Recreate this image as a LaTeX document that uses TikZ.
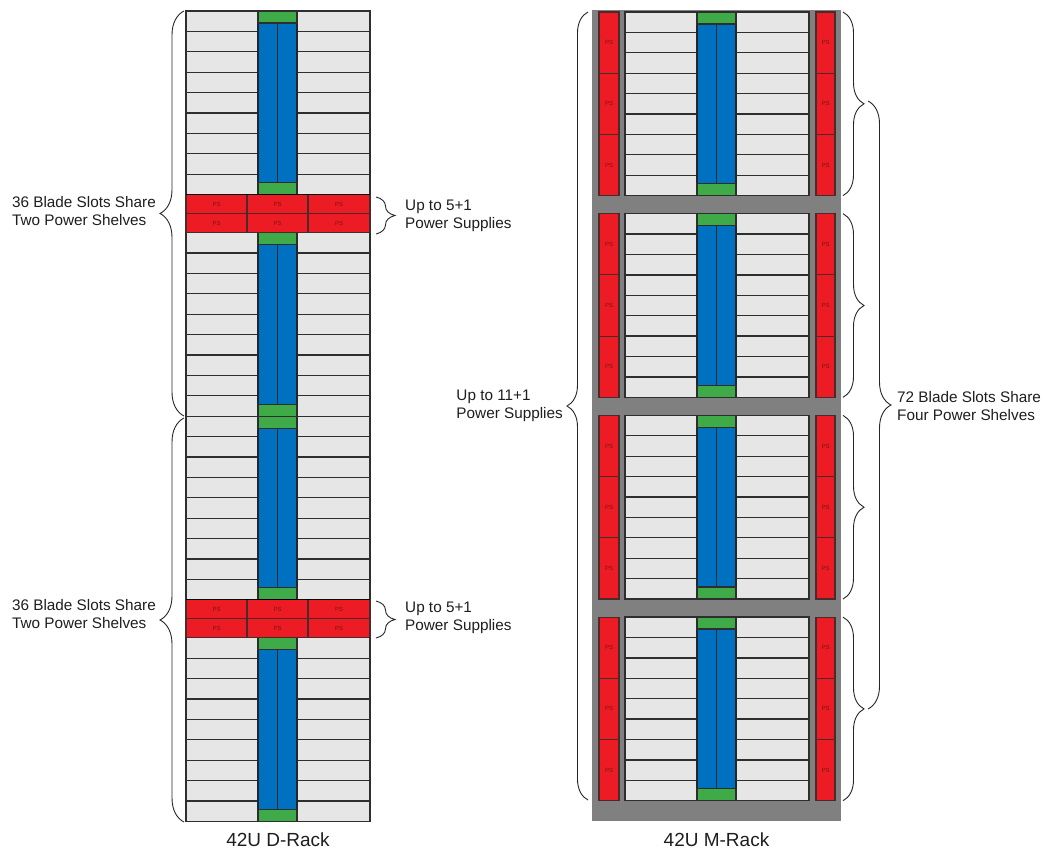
\documentclass[tikz,border=0pt]{standalone}
\usepackage{fontspec}
\setmainfont{Liberation Sans}
\usetikzlibrary{decorations.pathreplacing}
\definecolor{slotfill}{HTML}{E6E6E6}
\definecolor{slotline}{HTML}{2E2E2E}
\definecolor{psred}{HTML}{ED1C24}
\definecolor{psline}{HTML}{4A2A2A}
\definecolor{pstext}{HTML}{7A1414}
\definecolor{bladeblue}{HTML}{0070C0}
\definecolor{capgreen}{HTML}{3FAA48}
\definecolor{rackgray}{HTML}{808080}
\definecolor{labeltext}{HTML}{1E1E1E}
\begin{document}
\begin{tikzpicture}[x=1pt,y=-1pt,
 slot/.style={fill=slotfill, draw=slotline, line width=1.3pt},
 capbox/.style={fill=capgreen, draw=slotline, line width=1.3pt},
 blade/.style={fill=bladeblue, draw=black!85, line width=1.3pt},
 psbox/.style={fill=psred, draw=psline, line width=1.1pt},
 pslabel/.style={font=\fontsize{6}{7}\selectfont, text=pstext, inner sep=0pt},
 note/.style={font=\fontsize{15.3}{18}\selectfont, text=labeltext, align=left, inner sep=0pt},
 rtitle/.style={font=\fontsize{19}{22}\selectfont, text=labeltext, inner sep=0pt},
 curly/.style={draw=black!85, line width=0.9pt, decorate, decoration={brace, amplitude=#1}},
]
\useasboundingbox (0,0) rectangle (1043,853);

% ---------------- D-Rack ----------------
\foreach \t in {11,232.6,416.2,637.8} {
  \foreach \k in {0,...,8} {
    \draw[slot] (186,{\t+\k*20.4}) rectangle (258,{\t+(\k+1)*20.4});
    \draw[slot] (297,{\t+\k*20.4}) rectangle (370,{\t+(\k+1)*20.4});
  }
  \draw[blade] (258,{\t+12}) rectangle (277.5,{\t+183.6-12});
  \draw[blade] (277.5,{\t+12}) rectangle (297,{\t+183.6-12});
  \draw[capbox] (258,\t) rectangle (297,{\t+12});
  \draw[capbox] (258,{\t+183.6-12}) rectangle (297,{\t+183.6});
}
\foreach \p [count=\n] in {194.6,599.8} {
  \foreach \r in {0,1} {
    \draw[psbox] (186,{\p+\r*19}) rectangle (247,{\p+(\r+1)*19});
    \draw[psbox] (247,{\p+\r*19}) rectangle (308,{\p+(\r+1)*19});
    \draw[psbox] (308,{\p+\r*19}) rectangle (370,{\p+(\r+1)*19});
    \node[pslabel] (dps-\n-\r-a) at (216.5,{\p+\r*19+9.5}) {PS};
    \node[pslabel] (dps-\n-\r-b) at (277.5,{\p+\r*19+9.5}) {PS};
    \node[pslabel] (dps-\n-\r-c) at (339,{\p+\r*19+9.5}) {PS};
  }
  \draw[psline] (247,\p) -- (247,{\p+38}) (308,\p) -- (308,{\p+38});
  \draw[black, line width=1.3pt] (186,\p) -- (370,\p);
}
\node[rtitle] (dtitle) at (278,840) {42U D-Rack};

% ---------------- M-Rack ----------------
\fill[rackgray] (592,10) rectangle (841,821);
\foreach \i in {0,...,3} {
  \pgfmathsetmacro\c{12+201.7*\i}
  \foreach \k in {0,...,8} {
    \draw[slot] (625,{\c+\k*20.4}) rectangle (697,{\c+(\k+1)*20.4});
    \draw[slot] (736,{\c+\k*20.4}) rectangle (809,{\c+(\k+1)*20.4});
  }
  \draw[blade] (697,{\c+12}) rectangle (716.5,{\c+183.6-12});
  \draw[blade] (716.5,{\c+12}) rectangle (736,{\c+183.6-12});
  \draw[capbox] (697,\c) rectangle (736,{\c+12});
  \draw[capbox] (697,{\c+183.6-12}) rectangle (736,{\c+183.6});
  \foreach \j in {0,1,2} {
    \draw[psbox] (599,{\c+\j*61.2}) rectangle (619,{\c+(\j+1)*61.2});
    \draw[psbox] (816,{\c+\j*61.2}) rectangle (835,{\c+(\j+1)*61.2});
    \node[pslabel] (mpsL-\i-\j) at (609,{\c+\j*61.2+30.6}) {PS};
    \node[pslabel] (mpsR-\i-\j) at (825.5,{\c+\j*61.2+30.6}) {PS};
  }
  \coordinate (mbt-\i) at (843,\c);
  \coordinate (mbb-\i) at (843,{\c+183.6});
  \draw[curly=21pt] (mbt-\i) -- (mbb-\i);
}
\node[rtitle] (mtitle) at (716.5,840) {42U M-Rack};

% ---------------- Braces & notes ----------------
\coordinate (dA1) at (184,11);  \coordinate (dA2) at (184,416);
\coordinate (dB1) at (184,418); \coordinate (dB2) at (184,822);
\draw[curly=24pt] (dA2) -- (dA1);
\draw[curly=24pt] (dB2) -- (dB1);
\node[note, anchor=east] (n1) at (156,211) {36 Blade Slots Share\\Two Power Shelves};
\node[note, anchor=east] (n2) at (156,614) {36 Blade Slots Share\\Two Power Shelves};

\coordinate (dP1) at (376,197); \coordinate (dP2) at (376,234);
\coordinate (dQ1) at (376,601); \coordinate (dQ2) at (376,638);
\draw[curly=19pt] (dP1) -- (dP2);
\draw[curly=19pt] (dQ1) -- (dQ2);
\node[note, anchor=west] (n3) at (405,216) {Up to 5+1\\Power Supplies};
\node[note, anchor=west] (n4) at (405,618) {Up to 5+1\\Power Supplies};

\coordinate (mL1) at (588,12); \coordinate (mL2) at (588,800);
\draw[curly=21pt] (mL2) -- (mL1);
\node[note, anchor=east] (n5) at (563,406) {Up to 11+1\\Power Supplies};

\coordinate (mR1) at (868,101); \coordinate (mR2) at (868,709);
\draw[curly=23pt] (mR1) -- (mR2);
\node[note, anchor=west] (n6) at (897,406) {72 Blade Slots Share\\Four Power Shelves};
\end{tikzpicture}
\end{document}
